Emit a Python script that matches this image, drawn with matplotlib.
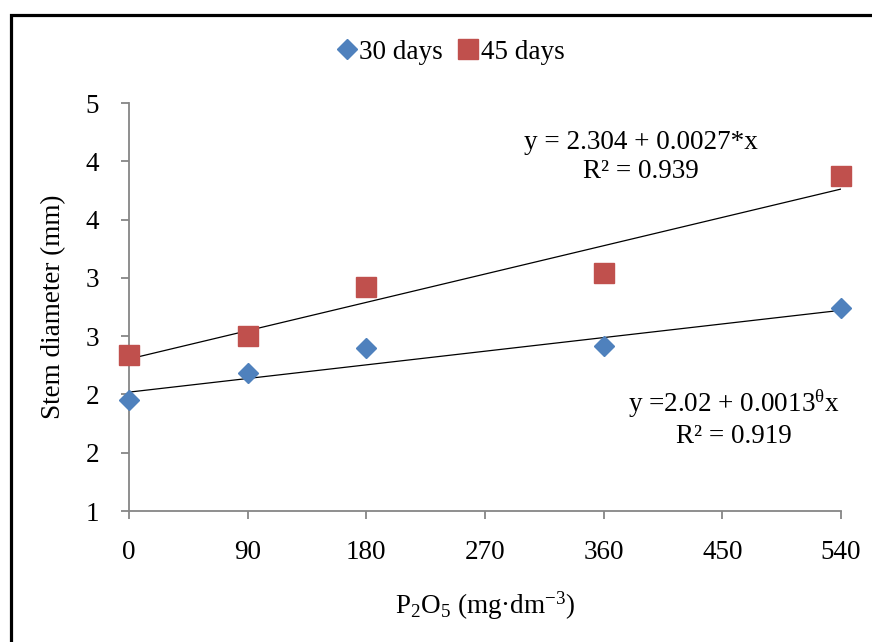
import numpy as np
import matplotlib.pyplot as plt
from matplotlib.patches import Rectangle

plt.rcParams['font.family'] = ['Liberation Serif', 'DejaVu Serif']
plt.rcParams['mathtext.fontset'] = 'custom'
plt.rcParams['mathtext.rm'] = 'Liberation Serif'
plt.rcParams['mathtext.it'] = 'Liberation Serif:italic'
plt.rcParams['mathtext.fallback'] = 'stix'

# dosis de P2O5 (mg dm-3)
dose = [0, 90, 180, 360, 540]
# diametro do caule (mm)
d30 = [1.95, 2.18, 2.40, 2.42, 2.74]
d45 = [2.34, 2.50, 2.92, 3.04, 3.87]

# coeficientes das retas de tendencia
fit30 = (2.02, 0.0013)
fit45 = (2.304, 0.0027)

yticks = [1, 1.5, 2, 2.5, 3, 3.5, 4, 4.5]
ylabels = ['1', '2', '2', '3', '3', '4', '4', '5']  # como o Excel arredonda
xticks = [0, 90, 180, 270, 360, 450, 540]

blue = '#4F81BD'
red = '#C0504D'
grey = '#868686'
fs = 19.5

fig = plt.figure(figsize=(8.72, 6.42), dpi=100)
ax = fig.add_axes([0.1479, 0.2040, 0.8165, 0.6355])

xx = np.array([dose[0], dose[-1]])
ax.plot(xx, fit45[0] + fit45[1] * xx, color='black', lw=0.9, zorder=2)
ax.plot(xx, fit30[0] + fit30[1] * xx, color='black', lw=0.9, zorder=2)

ax.plot(dose, d30, 'D', color=blue, ms=10.5, label='30 days', clip_on=False, zorder=3)
ax.plot(dose, d45, 's', color=red, ms=15, label='45 days', clip_on=False, zorder=3)

ax.set_xlim(0, 540)
ax.set_ylim(1, 4.5)
ax.set_xticks(xticks)
ax.set_yticks(yticks)
ax.set_yticklabels(ylabels)

for s in ['top', 'right']:
    ax.spines[s].set_visible(False)
for s in ['left', 'bottom']:
    ax.spines[s].set_color(grey)
    ax.spines[s].set_linewidth(1.3)
ax.tick_params(axis='both', colors=grey, labelcolor='black', labelsize=fs,
               length=5.5, width=1.3, direction='out')
ax.tick_params(axis='x', pad=15)
ax.tick_params(axis='y', pad=16)

ax.set_ylabel('Stem diameter (mm)', fontsize=fs, labelpad=14)
ax.set_xlabel(r'P$_\mathrm{2}$O$_\mathrm{5}$ (mg·dm$^{\mathrm{−3}}$)', fontsize=fs, labelpad=18)

ax.text(0.735, 0.756, 'y = 2.304 + 0.0027*x\nR² = 0.939', transform=fig.transFigure,
        ha='center', va='center', fontsize=fs, linespacing=1.2)
ax.text(0.842, 0.349, 'y =2.02 + 0.0013$^{\\mathrm{θ}}$x\nR² = 0.919', transform=fig.transFigure,
        ha='center', va='center', fontsize=fs, linespacing=1.2)

fig.legend(loc='center', bbox_to_anchor=(0.517, 0.919), ncol=2, frameon=False,
           fontsize=fs, handlelength=0.7, handletextpad=0.1, columnspacing=0.6,
           markerscale=1.0)

# moldura (so topo e esquerda aparecem)
fig.add_artist(Rectangle((11 / 872, -0.1), 1.2, 1.1 - 14.5 / 642, fill=False,
                         edgecolor='black', lw=2.3, transform=fig.transFigure))

fig.savefig('out.png', dpi=100)
